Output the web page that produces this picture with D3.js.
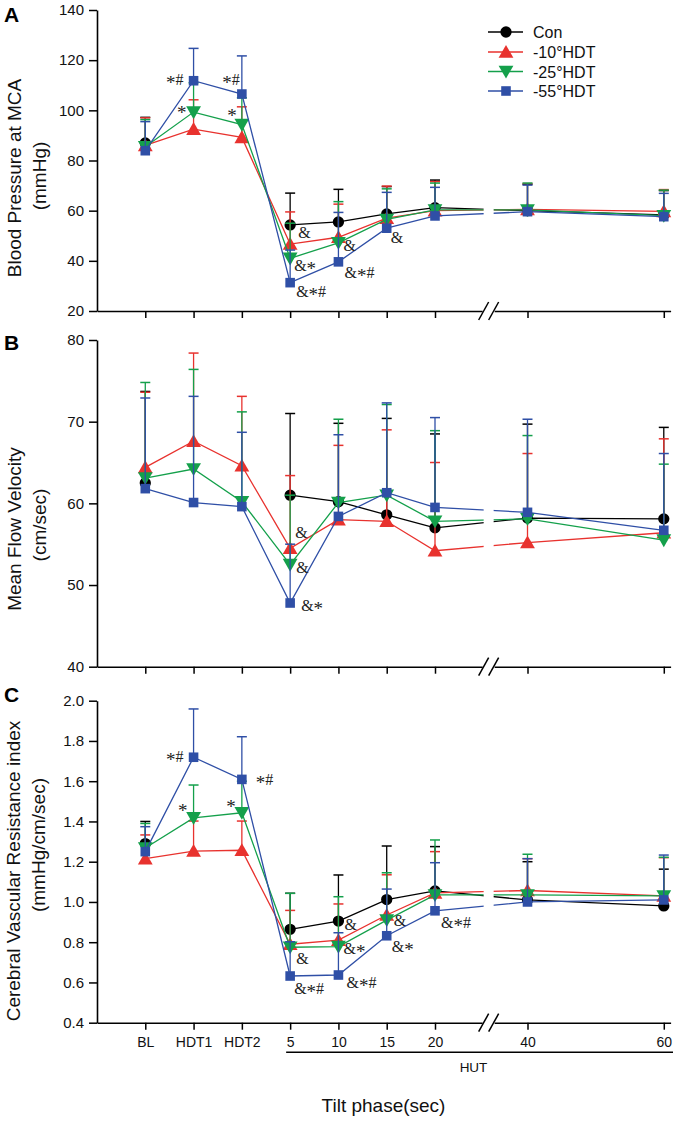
<!DOCTYPE html>
<html><head><meta charset="utf-8">
<script src="https://cdn.jsdelivr.net/npm/d3@7/dist/d3.min.js"></script>
<style>body{margin:0;background:#fff}</style>
</head><body><svg id="c" width="677" height="1121"></svg>
<script>
// ---------- data ----------
const categories = ["BL","HDT1","HDT2","5","10","15","20","40","60"];
const xPos = [-10,-5,0,5,10,15,20,40,60];
const seriesNames = ["Con","-10°HDT","-25°HDT","-55°HDT"];
const seriesColors = ["#000000","#e8322e","#14a04b","#2f4fa6"];

// Panel A: Blood pressure at MCA (mmHg)
const conA   = [87.0, null, null, 54.3, 55.5, 58.7, 61.2, 60.0, 58.3];
const conA_sd= [10.2, null, null, 12.7, 13.0, 10.9, 11.0, 10.5, 9.7];
const m10A   = [86.0, 92.5, 89.2, 46.7, 49.4, 57.0, 60.0, 60.5, 59.7];
const m10A_sd= [11.0, 11.7, 12.2, 12.8, 13.2, 12.8, 11.6, 10.3, 8.7];
const m25A   = [85.5, 99.3, 94.3, 41.0, 47.2, 56.5, 60.3, 60.3, 58.0];
const m25A_sd= [10.8, 11.7, 10.7, 14.0, 16.4, 12.2, 10.7, 10.7, 10.2];
const m55A   = [83.9, 111.8, 106.5, 31.3, 39.6, 53.0, 57.9, 59.6, 57.6];
const m55A_sd= [11.6, 12.9, 15.2, 13.0, 19.7, 14.3, 11.4, 10.6, 9.3];

// Panel B: Mean flow velocity (cm/sec)
const conB   = [62.5, null, null, 61.0, 60.2, 58.6, 57.0, 58.2, 58.1];
const conB_sd= [11.2, null, null, 10.0, 9.6, 11.8, 11.5, 11.5, 11.2];
const m10B   = [64.4, 67.6, 64.6, 54.5, 58.0, 57.8, 54.2, 55.2, 56.4];
const m10B_sd= [9.2, 10.8, 8.5, 8.9, 9.1, 11.2, 10.8, 10.9, 11.5];
const m25B   = [63.1, 64.2, 60.2, 52.5, 60.1, 61.0, 57.8, 58.1, 55.5];
const m25B_sd= [11.7, 12.2, 11.0, 8.5, 10.2, 11.1, 11.1, 10.2, 9.3];
const m55B   = [61.8, 60.1, 59.6, 47.8, 58.4, 61.3, 59.5, 58.9, 56.7];
const m55B_sd= [11.1, 13.0, 9.1, 7.2, 10.0, 11.0, 11.0, 11.4, 9.4];

// Panel C: Cerebral vascular resistance index (mmHg/cm/sec)
const conC   = [1.29, null, null, 0.864, 0.905, 1.012, 1.055, 1.01, 0.98];
const conC_sd= [0.11, null, null, 0.179, 0.229, 0.266, 0.22, 0.19, 0.183];
const m10C   = [1.215, 1.253, 1.257, 0.79, 0.81, 0.935, 1.045, 1.057, 1.03];
const m10C_sd= [0.118, 0.149, 0.145, 0.168, 0.18, 0.2, 0.205, 0.158, 0.19];
const m25C   = [1.268, 1.418, 1.443, 0.775, 0.778, 0.91, 1.035, 1.035, 1.03];
const m25C_sd= [0.122, 0.163, 0.157, 0.268, 0.248, 0.235, 0.273, 0.202, 0.192];
const m55C   = [1.25, 1.719, 1.609, 0.632, 0.637, 0.832, 0.956, 1.0, 1.01];
const m55C_sd= [0.124, 0.24, 0.212, 0.17, 0.21, 0.232, 0.239, 0.215, 0.223];

const yTicksA = [20,40,60,80,100,120,140];
const yTicksB = [40,50,60,70,80];
const yTicksC = [0.4,0.6,0.8,1.0,1.2,1.4,1.6,1.8,2.0];

// significance annotations (category, anchor value, text)
const annotA = [
  {cat:"HDT1", v:112,  t:"*#",  side:"L", dx:-10},
  {cat:"HDT2", v:112,  t:"*#",  side:"L", dx:-2},
  {cat:"HDT1", v:100,  t:"*",   side:"L", dx:-7},
  {cat:"HDT2", v:99,   t:"*",   side:"L", dx:-5},
  {cat:"5",    v:51,   t:"&",   side:"R", dx:8},
  {cat:"5",    v:38,   t:"&*",  side:"R", dx:4},
  {cat:"5",    v:27.4, t:"&*#", side:"R", dx:6},
  {cat:"10",   v:46,   t:"&",   side:"R", dx:5},
  {cat:"10",   v:35.2, t:"&*#", side:"R", dx:6},
  {cat:"15",   v:49,   t:"&",   side:"R", dx:4}
];
const annotB = [
  {cat:"5", v:56.4, t:"&",  side:"R", dx:5},
  {cat:"5", v:52.1, t:"&",  side:"R", dx:6},
  {cat:"5", v:47.4, t:"&*", side:"R", dx:11}
];
const annotC = [
  {cat:"HDT1", v:1.72,  t:"*#",  side:"L", dx:-10},
  {cat:"HDT2", v:1.606, t:"*#",  side:"R", dx:14},
  {cat:"HDT1", v:1.465, t:"*",   side:"L", dx:-6},
  {cat:"HDT2", v:1.487, t:"*",   side:"L", dx:-6},
  {cat:"5",    v:0.715, t:"&",   side:"R", dx:6},
  {cat:"5",    v:0.566, t:"&*#", side:"R", dx:4},
  {cat:"10",   v:0.886, t:"&",   side:"R", dx:6},
  {cat:"10",   v:0.765, t:"&*",  side:"R", dx:5},
  {cat:"10",   v:0.596, t:"&*#", side:"R", dx:8},
  {cat:"15",   v:0.907, t:"&",   side:"R", dx:7},
  {cat:"15",   v:0.778, t:"&*",  side:"R", dx:5},
  {cat:"20",   v:0.894, t:"&*#", side:"R", dx:6}
];

// ---------- drawing ----------
const SANS = "'Liberation Sans', Arial, Helvetica, sans-serif";
const SERIF = "'Liberation Serif', 'DejaVu Serif', 'Times New Roman', serif";
const svg = d3.select("#c");
const x = d3.scaleLinear().domain([-15,20,40,61]).range([97,435,527.5,670.6]);
const breakVal = 31.6;
const X0 = 97;

const symbols = [
  {type:d3.symbolCircle, size:100, rot:0},
  {type:d3.symbolTriangle, size:95, rot:0},
  {type:d3.symbolTriangle, size:95, rot:180},
  {type:d3.symbolSquare, size:92, rot:0}
];

const panels = [
  {letter:"A", letterY:22, domain:[20,140], range:[311,10], ticks:yTicksA, fmt:d3.format("d"),
   titles:[{t:"Blood Pressure at MCA", x:21, y:178},{t:"(mmHg)", x:46, y:176}],
   series:[[conA,conA_sd],[m10A,m10A_sd],[m25A,m25A_sd],[m55A,m55A_sd]], annots:annotA, labels:false},
  {letter:"B", letterY:350, domain:[40,80], range:[666.7,340], ticks:yTicksB, fmt:d3.format("d"),
   titles:[{t:"Mean Flow Velocity", x:21, y:529},{t:"(cm/sec)", x:46, y:525}],
   series:[[conB,conB_sd],[m10B,m10B_sd],[m25B,m25B_sd],[m55B,m55B_sd]], annots:annotB, labels:false},
  {letter:"C", letterY:702, domain:[0.4,2.0], range:[1022.7,700.7], ticks:yTicksC, fmt:d3.format(".1f"),
   titles:[{t:"Cerebral Vascular Resistance index", x:20, y:871},{t:"(mmHg/cm/sec)", x:45, y:845}],
   series:[[conC,conC_sd],[m10C,m10C_sd],[m25C,m25C_sd],[m55C,m55C_sd]], annots:annotC, labels:true}
];

panels.forEach(p => {
  const y = d3.scaleLinear().domain(p.domain).range(p.range);
  const g = svg.append("g");
  const yBase = p.range[0];

  // series
  p.series.forEach((s, si) => {
    const [mean, sd] = s;
    const col = seriesColors[si];
    const pts = categories.map((c,i) => ({pos:xPos[i], v:mean[i], sd:sd[i]}));
    const sg = g.append("g");
    // error bars (upper half)
    pts.filter(d => d.v != null).forEach(d => {
      const xx = x(d.pos), y1 = y(d.v), y2 = y(d.v + d.sd);
      sg.append("line").attr("x1",xx).attr("x2",xx).attr("y1",y1).attr("y2",y2)
        .attr("stroke",col).attr("stroke-width",1.3);
      sg.append("line").attr("x1",xx-5).attr("x2",xx+5).attr("y1",y2).attr("y2",y2)
        .attr("stroke",col).attr("stroke-width",1.5);
    });
    // line: Con BL is not connected to HUT points
    const line = d3.line().defined(d => d.v != null).x(d => x(d.pos)).y(d => y(d.v));
    sg.append("path").datum(pts).attr("d", line).attr("fill","none")
      .attr("stroke",col).attr("stroke-width",1.3);
    // markers
    const sym = symbols[si];
    sg.selectAll("path.m").data(pts.filter(d => d.v != null)).join("path")
      .attr("class","m")
      .attr("d", d3.symbol().type(sym.type).size(sym.size))
      .attr("transform", d => `translate(${x(d.pos)},${y(d.v) + (sym.type===d3.symbolTriangle ? (sym.rot? -1.5:1.5):0)}) rotate(${sym.rot})`)
      .attr("fill", col);
  });

  // gap in the lines at the axis break
  const bx = x(breakVal);
  g.append("rect").attr("x", bx-5).attr("y", p.range[1]).attr("width",10)
    .attr("height", yBase - p.range[1] - 4).attr("fill","#fff");

  // y axis
  const ya = g.append("g").attr("transform",`translate(${X0},0)`)
    .call(d3.axisLeft(y).tickValues(p.ticks).tickFormat(p.fmt).tickSize(8).tickPadding(5).tickSizeOuter(0));
  ya.select(".domain").attr("stroke-width",1.6);
  ya.selectAll(".tick line").attr("stroke-width",1.5);
  ya.selectAll("text").attr("font-size",15).attr("font-family",SANS).attr("fill","#111");

  // x axis
  const xa = g.append("g").attr("transform",`translate(0,${yBase})`)
    .call(d3.axisBottom(x).tickValues(xPos).tickSize(7).tickPadding(7).tickSizeOuter(0)
      .tickFormat((d,i) => p.labels ? categories[i] : ""));
  xa.select(".domain").attr("stroke-width",1.6);
  xa.selectAll(".tick line").attr("stroke-width",1.5);
  xa.selectAll("text").attr("font-size",14).attr("font-family",SANS).attr("fill","#111");

  // axis break marks
  g.append("rect").attr("x",bx-6).attr("y",yBase-3).attr("width",12).attr("height",6).attr("fill","#fff");
  [-5,5].forEach(o => {
    g.append("line").attr("x1",bx+o-5).attr("y1",yBase+9).attr("x2",bx+o+5).attr("y2",yBase-9)
      .attr("stroke","#000").attr("stroke-width",1.5);
  });

  // annotations: serif "&"/"#", asterisk lowered to mid-height
  p.annots.forEach(a => {
    const i = categories.indexOf(a.cat);
    const t = g.append("text").attr("x", x(xPos[i]) + a.dx).attr("y", y(a.v) + 5)
      .attr("text-anchor", a.side === "L" ? "end" : "start")
      .attr("font-family", SERIF).attr("font-size",16).attr("fill","#222");
    let shifted = false;
    Array.from(a.t).forEach(ch => {
      const ts = t.append("tspan").text(ch);
      if (ch === "*") { ts.attr("font-size",19).attr("dy", shifted ? 0 : 4); shifted = true; }
      else if (shifted) { ts.attr("dy", -4); shifted = false; }
    });
  });

  // y titles
  p.titles.forEach(t => {
    g.append("text").attr("transform",`translate(${t.x},${t.y}) rotate(-90)`)
      .attr("text-anchor","middle").attr("font-family",SANS).attr("font-size",19)
      .attr("fill","#111").text(t.t);
  });

  // panel letter
  g.append("text").attr("x",4).attr("y",p.letterY).attr("font-family",SANS)
    .attr("font-weight","bold").attr("font-size",21).text(p.letter);
});

// HUT bracket and x title
const hutY = 1052.3;
svg.append("line").attr("x1", x(5) - 4).attr("x2", 673).attr("y1", hutY).attr("y2", hutY)
  .attr("stroke","#000").attr("stroke-width",1.5);
svg.append("text").attr("x", 473.5).attr("y", 1071.7).attr("text-anchor","middle")
  .attr("font-family",SANS).attr("font-size",13.5).attr("fill","#111").text("HUT");
svg.append("text").attr("x", 383.5).attr("y", 1112).attr("text-anchor","middle")
  .attr("font-family",SANS).attr("font-size",19).attr("fill","#111").text("Tilt phase(sec)");

// legend
const leg = svg.append("g");
const legRows = [32, 52, 71.5, 91];
seriesNames.forEach((n, si) => {
  const ly = legRows[si];
  leg.append("line").attr("x1",488).attr("x2",523).attr("y1",ly).attr("y2",ly)
    .attr("stroke",seriesColors[si]).attr("stroke-width",1.3);
  const sym = symbols[si];
  leg.append("path").attr("d", d3.symbol().type(sym.type).size(sym.size))
    .attr("transform",`translate(506,${ly + (sym.type===d3.symbolTriangle ? (sym.rot? -1.5:1.5):0)}) rotate(${sym.rot})`)
    .attr("fill",seriesColors[si]);
  leg.append("text").attr("x",533).attr("y",ly+6).attr("font-family",SANS).attr("font-size",16)
    .attr("fill","#111").text(n);
});
</script>
</body></html>
